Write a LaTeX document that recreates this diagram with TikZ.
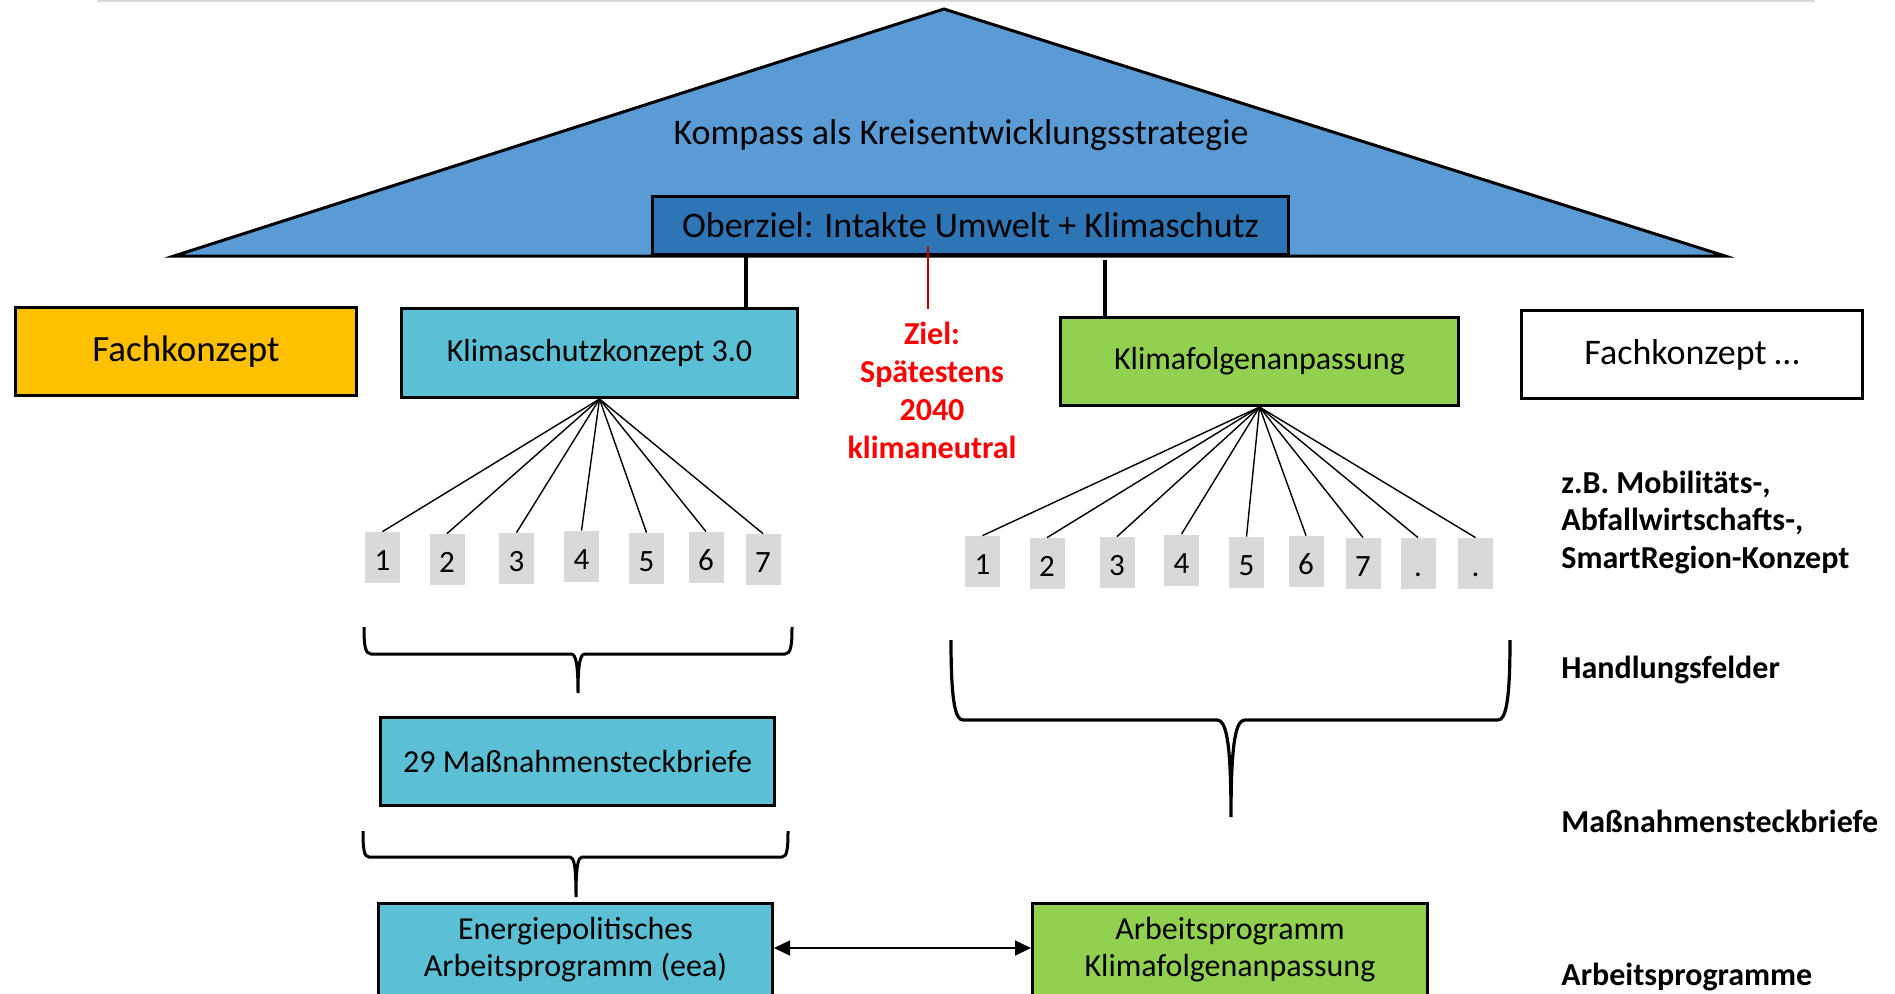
\documentclass[tikz,border=0pt]{standalone}
\usepackage{fontspec}
\setmainfont{Carlito}
\usetikzlibrary{arrows.meta}
\definecolor{triblue}{HTML}{5B9BD5}
\definecolor{obblue}{HTML}{2E75B6}
\definecolor{aqua}{HTML}{5BC0D5}
\definecolor{lgreen}{HTML}{92D050}
\definecolor{orng}{HTML}{FFC000}
\definecolor{numgrey}{HTML}{D9D9D9}
\definecolor{zielred}{HTML}{FF0000}
\definecolor{linered}{HTML}{C00000}
\begin{document}
\begin{tikzpicture}[x=0.5pt,y=-0.5pt,
  box/.style={draw=black,line width=1.5pt,inner sep=0pt,align=center},
  numbox/.style={fill=numgrey,minimum width=17.5pt,minimum height=25.5pt,inner sep=0pt,text height=13pt,text depth=0pt,font=\fontsize{15.5}{18}\selectfont},
  fan/.style={line width=0.7pt},
  stem/.style={line width=2.2pt},
  brace/.style={line width=1.5pt},
  lbl/.style={font=\bfseries\fontsize{16}{19}\selectfont,anchor=base west,inner sep=0pt},
  ziel/.style={font=\bfseries\fontsize{16}{19}\selectfont,text=zielred,anchor=base,inner sep=0pt},
  boxtext/.style={font=\fontsize{16}{19}\selectfont,anchor=base,inner sep=0pt}
]
\useasboundingbox (0,0) rectangle (1895,993);
\clip (0,0) rectangle (1895,993);

% top rule
\draw[numgrey,line width=1pt] (97,1) -- (1815,1);

% triangle
\draw[fill=triblue,line width=1.5pt] (944,9) -- (1725,256) -- (174,256) -- cycle;
\node[font=\fontsize{18}{21}\selectfont,inner sep=0pt] (kompass) at (961,135) {Kompass als Kreisentwicklungsstrategie};

% Oberziel
\node[box,fill=obblue,minimum width=318pt,minimum height=29pt,font=\fontsize{18}{21}\selectfont] (ob) at (970.5,225.5) {Oberziel: Intakte Umwelt + Klimaschutz};

% second row boxes
\node[box,fill=orng,minimum width=170.5pt,minimum height=44pt,font=\fontsize{18.5}{21}\selectfont] (fk) at (186,351.5) {Fachkonzept};
\node[box,fill=aqua,minimum width=198pt,minimum height=44.5pt,font=\fontsize{16}{19}\selectfont] (ks) at (599.5,353) {Klimaschutzkonzept 3.0};
\node[box,fill=lgreen,minimum width=199pt,minimum height=44pt,font=\fontsize{16}{19}\selectfont] (kf) at (1259.5,361.5) {Klimafolgenanpassung};
\node[box,fill=white,minimum width=170.5pt,minimum height=44pt,font=\fontsize{18}{21}\selectfont] (fk2) at (1692,354.5) {Fachkonzept …};

% stems
\coordinate (sl) at (746,0);
\coordinate (sr) at (1105,0);
\draw[stem] (ob.south -| sl) -- (ks.north -| sl);
\draw[stem] ([yshift=-2pt]ob.south -| sr) -- (kf.north -| sr);

% red goal
\coordinate (rt) at (928,246);
\coordinate (rb) at (928,309);
\draw[linered,line width=0.8pt] (rt) -- (rb);
\node[ziel] (z1) at (932,344) {Ziel:};
\node[ziel] (z2) at (932,382) {Spätestens};
\node[ziel] (z3) at (932,420) {2040};
\node[ziel] (z4) at (932,458) {klimaneutral};

% left numbers
\node[numbox] (l1) at (382.5,557.5) {1};
\node[numbox] (l2) at (447,559.5) {2};
\node[numbox] (l3) at (516.5,558.5) {3};
\node[numbox] (l4) at (581.5,556.5) {4};
\node[numbox] (l5) at (646.5,558.5) {5};
\node[numbox] (l6) at (706,557.5) {6};
\node[numbox] (l7) at (763,559.5) {7};
\foreach \i in {1,...,7} \draw[fan] (ks.south) -- (l\i.north);

% right numbers
\node[numbox] (r1) at (982.5,561.5) {1};
\node[numbox] (r2) at (1047,563.5) {2};
\node[numbox] (r3) at (1117,562.5) {3};
\node[numbox] (r4) at (1181.5,560) {4};
\node[numbox] (r5) at (1246.5,562.5) {5};
\node[numbox] (r6) at (1306,561.5) {6};
\node[numbox] (r7) at (1363,563.5) {7};
\node[numbox] (r8) at (1418,563.5) {.};
\node[numbox] (r9) at (1475.5,563.5) {.};
\foreach \i in {1,...,9} \draw[fan] (kf.south) -- (r\i.north);

% braces
\draw[brace] (364,627) .. controls (364,645) and (365,654) .. (371,654) -- (571,654)
  .. controls (576,654) and (578,664) .. (578,693)
  .. controls (578,664) and (580,654) .. (585,654) -- (785,654)
  .. controls (791,654) and (792,645) .. (792,627);
\draw[brace,line width=1.6pt] (951,640) .. controls (951,700) and (955,720) .. (963,720) -- (1217,720)
  .. controls (1226,720) and (1231,740) .. (1231,817)
  .. controls (1231,740) and (1236,720) .. (1245,720) -- (1498,720)
  .. controls (1506,720) and (1510,700) .. (1510,640);
\draw[brace] (363,831) .. controls (363,849) and (364,857) .. (369,857) -- (570,857)
  .. controls (574,857) and (576,866) .. (576,897)
  .. controls (576,866) and (578,857) .. (582,857) -- (782,857)
  .. controls (787,857) and (788,849) .. (788,831);

% Massnahmen
\node[box,fill=aqua,minimum width=197pt,minimum height=44pt,font=\fontsize{16}{19}\selectfont] (mn) at (577.5,761.5) {29 Maßnahmensteckbriefe};

% Arbeitsprogramme
\node[box,fill=aqua,minimum width=197pt,minimum height=54pt,anchor=north] (ep) at (575.5,902) {};
\node[boxtext] (ep1) at (575.5,939) {Energiepolitisches};
\node[boxtext] (ep2) at (575.5,976) {Arbeitsprogramm (eea)};
\node[box,fill=lgreen,minimum width=197.5pt,minimum height=54pt,anchor=north] (ap) at (1230,902) {};
\node[boxtext] (ap1) at (1230,939) {Arbeitsprogramm};
\node[boxtext] (ap2) at (1230,976) {Klimafolgenanpassung};
\coordinate (ay) at (0,948);
\draw[line width=0.8pt,{Triangle[length=8pt,width=7.5pt]}-{Triangle[length=8pt,width=7.5pt]}] (ep.east |- ay) -- (ap.west |- ay);

% right labels
\node[lbl] (t1) at (1561,493) {z.B. Mobilitäts-,};
\node[lbl] (t2) at (1561,530) {Abfallwirtschafts-,};
\node[lbl] (t3) at (1561,568) {SmartRegion-Konzept};
\node[lbl] (t4) at (1561,678) {Handlungsfelder};
\node[lbl] (t5) at (1561,832) {Maßnahmensteckbriefe};
\node[lbl] (t6) at (1561,985) {Arbeitsprogramme};
\end{tikzpicture}
\end{document}
